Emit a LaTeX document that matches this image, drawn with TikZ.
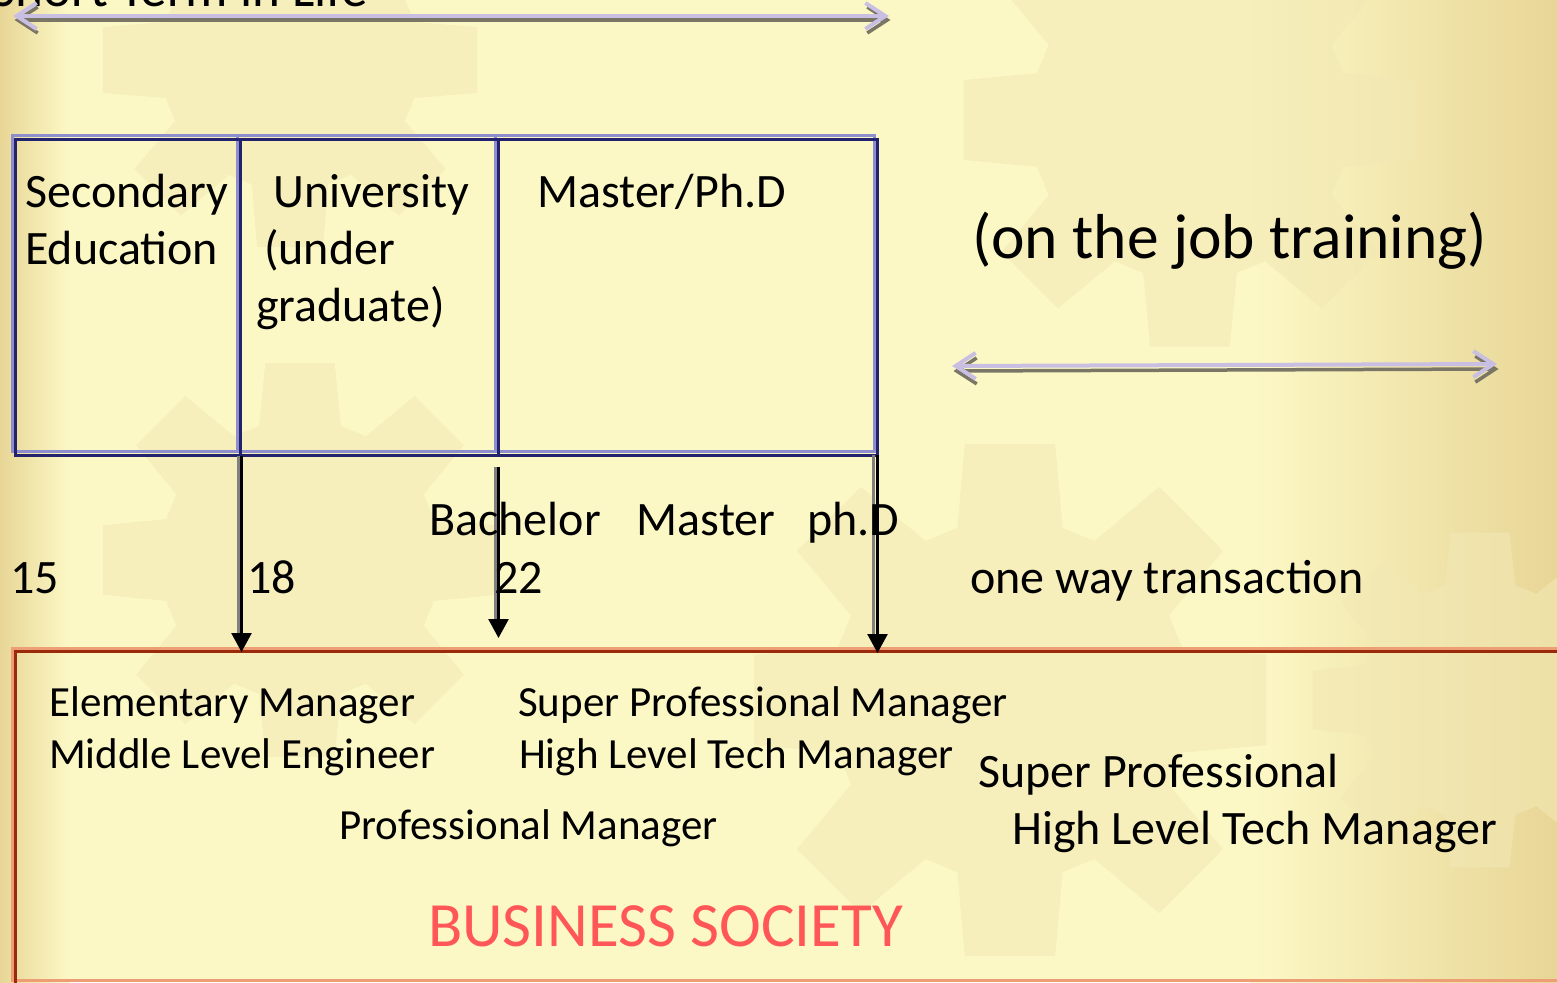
\documentclass[tikz,border=0pt]{standalone}
\usepackage{fontspec}
\setmainfont{Carlito}
\usetikzlibrary{arrows.meta,calc}
\definecolor{bgmain}{HTML}{FCF8C6}
\definecolor{bgedge}{HTML}{E8D696}
\definecolor{gearc}{HTML}{F2E8B4}
\definecolor{cellLight}{HTML}{8E8ECE}
\definecolor{cellDark}{HTML}{22226E}
\definecolor{lav}{HTML}{C8BFE2}
\definecolor{arrshadow}{HTML}{7A7666}
\definecolor{bizLight}{HTML}{EE9E74}
\definecolor{bizDark}{HTML}{9A2A0A}
\definecolor{bizred}{HTML}{FF5757}
\begin{document}
\begin{tikzpicture}[x=1pt,y=-1pt,
  txt/.style={inner sep=0pt, anchor=base west, text=black},
  fA/.style={font=\fontsize{48}{57}\selectfont},
  fB/.style={font=\fontsize{43}{52}\selectfont},
  cellL/.style={draw=cellLight, line width=3pt, inner sep=0pt},
  cellD/.style={draw=cellDark, line width=3pt, inner sep=0pt},
  bizL/.style={draw=bizLight, line width=3pt},
  bizD/.style={draw=bizDark, line width=3pt},
  dblshadow/.style={draw=arrshadow, line width=3.5pt, line cap=round, line join=round,
     {Straight Barb[length=20pt,width=26pt]}-{Straight Barb[length=20pt,width=26pt]}},
  dblarrow/.style={draw=lav, line width=4pt, line cap=round, line join=round,
     {Straight Barb[length=20pt,width=26pt]}-{Straight Barb[length=20pt,width=26pt]}},
  downshadow/.style={draw=gray, line width=3pt},
  downarrow/.style={draw=black, line width=2.6pt, -{Triangle[width=20pt,length=19pt]}}
]
\useasboundingbox (0,0) rectangle (1557,982);
\begin{scope}
\clip (0,0) rectangle (1557,982);
\fill[bgmain] (0,0) rectangle (1557,982);
\fill[left color=bgedge, right color=bgmain] (0,0) rectangle (70,982);
\fill[left color=bgmain, right color=bgedge] (1250,0) rectangle (1557,982);
% faint gears of the background
\foreach \cx/\cy/\R/\r in {290/60/190/130, 1190/120/230/160, 1010/700/260/180, 300/560/200/140, 1480/700/170/120}{
  \fill[gearc, opacity=0.6] ([shift={(\cx,\cy)}]-10:\R)
    \foreach \a in {0,45,...,315}{ -- ([shift={(\cx,\cy)}]\a-10:\R) -- ([shift={(\cx,\cy)}]\a+10:\R)
      -- ([shift={(\cx,\cy)}]\a+17:\r) -- ([shift={(\cx,\cy)}]\a+28:\r) } -- cycle;
}
\node[txt, anchor=base east, font=\fontsize{53}{60}\selectfont] (title) at (368,7) {Short Term in Life};
\end{scope}

% top double arrow
\coordinate (t1) at (13,16);
\coordinate (t2) at (889,16);
\draw[dblshadow] ([shift={(1.5pt,-4pt)}]t1) -- ([shift={(1.5pt,-4pt)}]t2);
\draw[dblarrow] (t1) -- (t2);

% education cells
\node[cellL, minimum width=225pt, minimum height=316pt] (secL) at (124.5,293.5) {};
\node[cellL, minimum width=258pt, minimum height=316pt] (uniL) at (366,293.5) {};
\node[cellL, minimum width=379pt, minimum height=316pt] (masL) at (684.5,293.5) {};
\node[cellD, minimum width=225pt, minimum height=316pt] (sec) at (127.5,297.5) {};
\node[cellD, minimum width=258pt, minimum height=316pt] (uni) at (369,297.5) {};
\node[cellD, minimum width=379pt, minimum height=316pt] (mas) at (687.5,297.5) {};

\node[txt, fA, align=left] (sectxt) at (25,264) {Secondary\\Education};
\node[txt, fA, align=left] (unitxt) at (256,321) {\hspace*{17pt}University\\\hspace*{8pt}(under\\graduate)};
\node[txt, fA] (mastxt) at (537,207) {Master/Ph.D};

% on the job training
\node[txt, font=\fontsize{63.5}{70}\selectfont] (ojt) at (972,258) {(on the job training)};
\coordinate (j1) at (952,366);
\coordinate (j2) at (1497,364);
\draw[dblshadow] ([shift={(1.5pt,-5pt)}]j1) -- ([shift={(1.5pt,-5pt)}]j2);
\draw[dblarrow] (j1) -- (j2);

% business society box
\draw[bizL] (12,648) rectangle (1580,980);
\draw[bizD] (15.5,651.5) rectangle (1585,986);
\coordinate (biz) at (16,652);

% down arrows
\coordinate (d1a) at (241.5,456);
\coordinate (d1b) at (241.5,652);
\coordinate (d2a) at (498.5,467);
\coordinate (d2b) at (498.5,638);
\coordinate (d3a) at (877.5,455);
\coordinate (d3b) at (877.5,653);
\draw[downshadow] ([xshift=-3.5pt]d1a) -- ([shift={(-3.5pt,18pt)}]d1b);
\draw[downshadow] ([xshift=-3pt]d2a) -- ([shift={(-3pt,18pt)}]d2b);
\draw[downshadow] ([xshift=-4pt]d3a) -- ([shift={(-4pt,18pt)}]d3b);
\draw[downarrow] (d1a) -- (d1b);
\draw[downarrow] (d2a) -- (d2b);
\draw[downarrow] (d3a) -- (d3b);

% ages and degrees
\node[txt, fA] (deg) at (429,535) {Bachelor\hspace{36pt}Master\hspace{32pt}ph.D};
\node[txt, fA] (a15) at (10,593) {15};
\node[txt, fA] (a18) at (247,593) {18};
\node[txt, fA] (a22) at (494,593) {22};
\node[txt, fA] (oneway) at (970,593) {one way transaction};

% business roles
\node[txt, fB] (em) at (49,716) {Elementary Manager};
\node[txt, fB] (mle) at (49,768) {Middle Level Engineer};
\node[txt, fB] (spm) at (518,716) {Super Professional Manager};
\node[txt, fB] (hltm) at (519,768) {High Level Tech Manager};
\node[txt, fB] (pm) at (339,839) {Professional Manager};
\node[txt, fA] (sp) at (978,787) {Super Professional};
\node[txt, fA] (hltm2) at (1012,844) {High Level Tech Manager};
\node[txt, text=bizred, font=\fontsize{63}{70}\selectfont] (bs) at (428,946) {BUSINESS SOCIETY};
\end{tikzpicture}
\end{document}
